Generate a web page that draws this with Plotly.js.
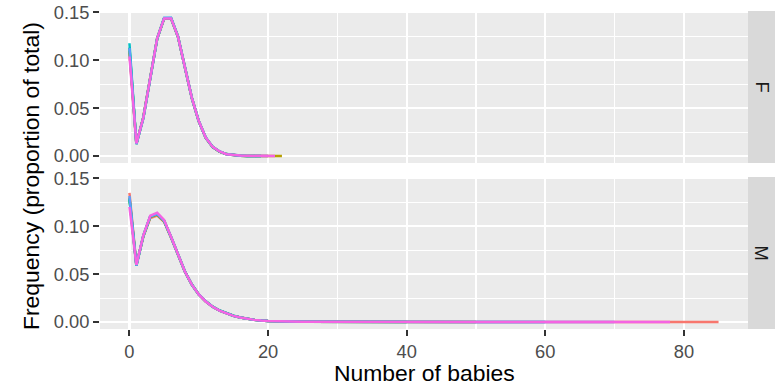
<!DOCTYPE html>
<html>
<head>
<meta charset="utf-8">
<script src="https://cdn.plot.ly/plotly-3.0.1.min.js"></script>
<style>html,body{margin:0;padding:0;background:#fff;}#chart{width:775px;height:385px;}</style>
</head>
<body>
<div id="chart"></div>
<script>
// ---- data ----
var seriesNames = ["s1", "s2", "s3", "s4", "s5", "s6"];
var seriesColors = ["#F8766D", "#B79F00", "#00BA38", "#00BFC4", "#619CFF", "#F564E3"];
var facetLabels = ["F", "M"];

var xF = [0,1,2,3,4,5,6,7,8,9,10,11,12,13,14,15,16,17,18,19,20,21,22];
var fS1 = [0.1080,0.0128,0.0405,0.0815,0.1225,0.1432,0.1433,0.1243,0.0915,0.0605,0.0363,0.0192,0.0095,0.0047,0.0020,0.0009,0.0004,0.0002,0.0001,0.0001,0.0000];
var fS2 = [0.1100,0.0129,0.0402,0.0812,0.1226,0.1434,0.1436,0.1246,0.0916,0.0606,0.0364,0.0192,0.0096,0.0047,0.0021,0.0010,0.0004,0.0002,0.0001,0.0001,0.0001,0.0000,0.0000];
var fS3 = [0.1130,0.0127,0.0400,0.0810,0.1224,0.1436,0.1437,0.1244,0.0914,0.0604,0.0362,0.0191,0.0095,0.0046,0.0020,0.0009,0.0004,0.0002,0.0001,0.0000];
var fS4 = [0.1176,0.0125,0.0395,0.0805,0.1222,0.1438,0.1440,0.1247,0.0918,0.0608,0.0366,0.0194,0.0097,0.0048,0.0021,0.0010,0.0005,0.0002,0.0001,0.0000];
var fS5 = [0.1125,0.0127,0.0398,0.0808,0.1226,0.1440,0.1441,0.1246,0.0917,0.0607,0.0365,0.0193,0.0096,0.0048,0.0020,0.0010,0.0004,0.0002,0.0001,0.0001,0.0000];
var fS6 = [0.1038,0.0131,0.0400,0.0810,0.1228,0.1435,0.1435,0.1245,0.0917,0.0607,0.0365,0.0193,0.0096,0.0048,0.0020,0.0010,0.0005,0.0003,0.0002,0.0001,0.0001,0.0000];

var xM = [0,1,2,3,4,5,6,7,8,9,10,11,12,13,14,15,16,17,18,19,20,25,30,40,50,60,70,78,85];
var mS1 = [0.1346,0.0600,0.0890,0.1085,0.1110,0.1045,0.0880,0.0695,0.0525,0.0390,0.0288,0.0215,0.0160,0.0120,0.0090,0.0065,0.0047,0.0033,0.0023,0.0016,0.0011,0.0003,0.0001,0.0000,0.0000,0.0000,0.0000,0.0000,0.0000];
var mS2 = [0.1300,0.0595,0.0895,0.1095,0.1120,0.1050,0.0884,0.0697,0.0526,0.0390,0.0288,0.0216,0.0160,0.0120,0.0090,0.0065,0.0047,0.0033,0.0023,0.0016,0.0011,0.0003,0.0001,0.0000,0.0000];
var mS3 = [0.1280,0.0590,0.0898,0.1100,0.1125,0.1055,0.0886,0.0698,0.0527,0.0391,0.0289,0.0216,0.0161,0.0121,0.0091,0.0066,0.0047,0.0033,0.0023,0.0016,0.0011,0.0003,0.0001,0.0000];
var mS4 = [0.1290,0.0588,0.0900,0.1103,0.1128,0.1057,0.0887,0.0699,0.0527,0.0391,0.0289,0.0216,0.0161,0.0121,0.0091,0.0066,0.0047,0.0033,0.0023,0.0016,0.0011,0.0003,0.0001,0.0000,0.0000,0.0000];
var mS5 = [0.1316,0.0590,0.0900,0.1100,0.1128,0.1055,0.0886,0.0698,0.0527,0.0390,0.0288,0.0216,0.0160,0.0120,0.0090,0.0065,0.0047,0.0033,0.0023,0.0016,0.0011,0.0003,0.0001,0.0000,0.0000,0.0000,0.0000];
var mS6 = [0.1200,0.0596,0.0904,0.1110,0.1140,0.1065,0.0890,0.0700,0.0527,0.0390,0.0288,0.0215,0.0160,0.0120,0.0090,0.0065,0.0047,0.0033,0.0023,0.0016,0.0011,0.0003,0.0001,0.0000,0.0000,0.0000,0.0000,0.0000];

var xTicks = [0, 20, 40, 60, 80];
var yTicks = [0, 0.05, 0.10, 0.15];
var yTickText = ["0.00", "0.05", "0.10", "0.15"];
var xTitle = "Number of babies";
var yTitle = "Frequency (proportion of total)";

// ---- layout geometry ----
var W = 775, H = 385;
var panelL = 100, panelR = 748;
var fTop = 11, fBot = 163, mTop = 177, mBot = 329;
function px(x) { return x / W; }
function py(y) { return 1 - y / H; }

var fData = [fS1, fS2, fS3, fS4, fS5, fS6];
var mData = [mS1, mS2, mS3, mS4, mS5, mS6];
var traces = [];
for (var i = 0; i < seriesNames.length; i++) {
  traces.push({x: xF.slice(0, fData[i].length), y: fData[i], xaxis: "x", yaxis: "y", mode: "lines",
    name: seriesNames[i], showlegend: false, hoverinfo: "skip",
    line: {color: seriesColors[i], width: 2.5}});
}
for (var j = 0; j < seriesNames.length; j++) {
  traces.push({x: xM.slice(0, mData[j].length), y: mData[j], xaxis: "x2", yaxis: "y2", mode: "lines",
    name: seriesNames[j], showlegend: false, hoverinfo: "skip",
    line: {color: seriesColors[j], width: 2.5}});
}

var tickFont = {family: "Liberation Sans, Arial, sans-serif", size: 18.3, color: "#4D4D4D"};
var xRange = [-4.25, 89.25];
var yRange = [-0.0072, 0.1512];

function xAxis(anchor, showLabels) {
  return {domain: [px(panelL), px(panelR)], anchor: anchor, range: xRange,
    tickmode: "array", tickvals: xTicks, ticktext: xTicks.map(String),
    showticklabels: showLabels, ticks: showLabels ? "outside" : "", ticklen: 6, tickwidth: 2, tickcolor: "#333333",
    tickfont: tickFont, showgrid: true, gridcolor: "#FFFFFF", gridwidth: 2.2,
    minor: {tickmode: "array", tickvals: [10, 30, 50, 70], showgrid: true, gridcolor: "#FFFFFF", gridwidth: 1.1, ticks: ""},
    zeroline: false, showline: false, fixedrange: true};
}
function yAxis(anchor, top, bot) {
  return {domain: [py(bot), py(top)], anchor: anchor, range: yRange,
    tickmode: "array", tickvals: yTicks, ticktext: yTickText,
    ticks: "outside", ticklen: 6, tickwidth: 2, tickcolor: "#333333",
    tickfont: tickFont, showgrid: true, gridcolor: "#FFFFFF", gridwidth: 2.2,
    minor: {tickmode: "array", tickvals: [0.025, 0.075, 0.125], showgrid: true, gridcolor: "#FFFFFF", gridwidth: 1.1, ticks: ""},
    zeroline: false, showline: false, fixedrange: true};
}

var stripFont = {family: "Liberation Sans, Arial, sans-serif", size: 18.3, color: "#1A1A1A"};
var layout = {
  width: W, height: H,
  margin: {l: 0, r: 0, t: 0, b: 0},
  paper_bgcolor: "#FFFFFF", plot_bgcolor: "#EBEBEB",
  showlegend: false,
  xaxis: xAxis("y", false),
  yaxis: yAxis("x", fTop, fBot),
  xaxis2: xAxis("y2", true),
  yaxis2: yAxis("x2", mTop, mBot),
  shapes: [
    {type: "rect", xref: "paper", yref: "paper", x0: px(panelR), x1: px(W), y0: py(fBot), y1: py(fTop), fillcolor: "#D9D9D9", line: {width: 0}, layer: "below"},
    {type: "rect", xref: "paper", yref: "paper", x0: px(panelR), x1: px(W), y0: py(mBot), y1: py(mTop), fillcolor: "#D9D9D9", line: {width: 0}, layer: "below"}
  ],
  annotations: [
    {text: facetLabels[0], xref: "paper", yref: "paper", x: px((panelR + W) / 2), y: py((fTop + fBot) / 2), showarrow: false, textangle: 90, font: stripFont, xanchor: "center", yanchor: "middle"},
    {text: facetLabels[1], xref: "paper", yref: "paper", x: px((panelR + W) / 2), y: py((mTop + mBot) / 2), showarrow: false, textangle: 90, font: stripFont, xanchor: "center", yanchor: "middle"},
    {text: xTitle, xref: "paper", yref: "paper", x: px((panelL + panelR) / 2), y: py(373), showarrow: false, xanchor: "center", yanchor: "middle",
      font: {family: "Liberation Sans, Arial, sans-serif", size: 22.9, color: "#000000"}},
    {text: yTitle, xref: "paper", yref: "paper", x: px(31), y: py(176), showarrow: false, textangle: -90, xanchor: "center", yanchor: "middle",
      font: {family: "Liberation Sans, Arial, sans-serif", size: 22.9, color: "#000000"}}
  ]
};

Plotly.newPlot("chart", traces, layout, {staticPlot: true, displayModeBar: false});
</script>
</body>
</html>
